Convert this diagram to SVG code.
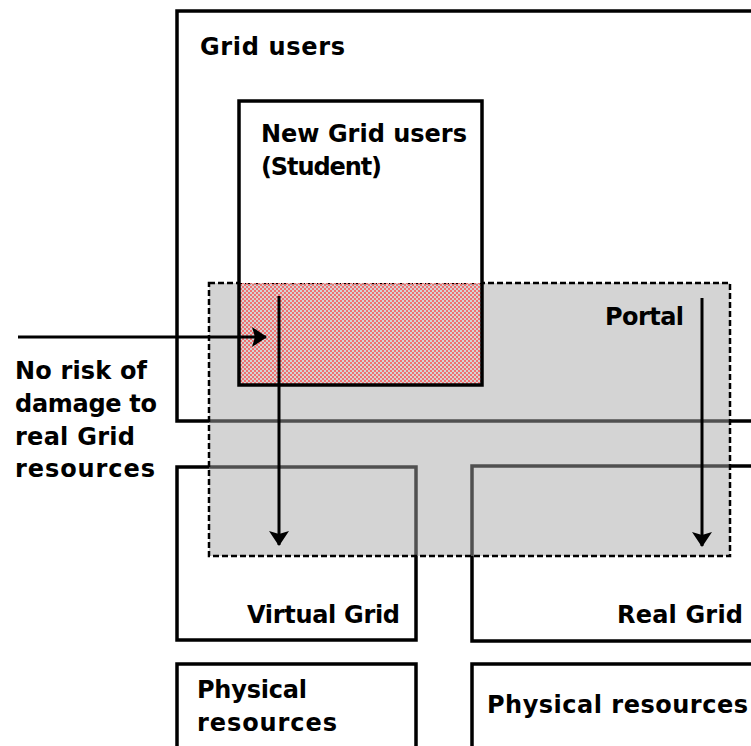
<svg xmlns="http://www.w3.org/2000/svg" width="751" height="746" viewBox="0 0 751 746">
<style>
  .box { fill: #ffffff; stroke: #000000; stroke-width: 3.5; }
  .under { fill: none; stroke: #505050; stroke-width: 3.5; }
  .lbl { font-family: "DejaVu Sans", Verdana, sans-serif; font-weight: bold; font-size: 24px; fill: #000000; }
  .end { text-anchor: end; }
  .conn { fill: none; stroke: #000000; stroke-width: 3; marker-end: url(#arrow); }
</style>
<defs>
  <marker id="arrow" viewBox="0 0 15 20" refX="14" refY="10" markerWidth="15" markerHeight="20" markerUnits="userSpaceOnUse" orient="auto">
    <path d="M0,0 L15,10 L0,20 L3,10 z" fill="#000000"/>
  </marker>
  <pattern id="checker" x="0" y="0" width="4" height="4" patternUnits="userSpaceOnUse">
    <rect x="0" y="0" width="2" height="2" fill="#f07070"/>
    <rect x="2" y="2" width="2" height="2" fill="#f07070"/>
  </pattern>
</defs>
<rect x="0" y="0" width="751" height="746" fill="#ffffff"/>

<g id="grid-users">
  <path class="box" d="M753,421 H177 V11 H753"/>
  <text class="lbl" x="200" y="55" textLength="145" lengthAdjust="spacing">Grid users</text>
</g>

<g id="virtual-grid">
  <rect class="box" x="177" y="467" width="239" height="173"/>
  <text class="lbl" x="247" y="623" textLength="153" lengthAdjust="spacing">Virtual Grid</text>
</g>

<g id="real-grid">
  <path class="box" d="M753,466 H472 V641 H753"/>
  <text class="lbl" x="617" y="623" textLength="126" lengthAdjust="spacing">Real Grid</text>
</g>

<g id="physical-virtual">
  <path class="box" d="M177,750 V664 H416 V750"/>
  <text class="lbl" x="197" y="698" textLength="110" lengthAdjust="spacing">Physical</text>
  <text class="lbl" x="197" y="731" textLength="140" lengthAdjust="spacing">resources</text>
</g>

<g id="physical-real">
  <path class="box" d="M472,750 V664 H753"/>
  <text class="lbl" x="487" y="713" textLength="261" lengthAdjust="spacing">Physical resources</text>
</g>

<g id="portal">
  <rect x="209" y="283" width="521" height="273" fill="#d4d4d4"/>
  <path class="under" d="M209,421 H730 M209,467 H416 V556 M730,466 H472 V556"/>
  <rect x="209" y="283" width="521" height="273" fill="none" stroke="#000000" stroke-width="2.5" stroke-dasharray="6,3"/>
  <text class="lbl" x="605" y="325" textLength="79" lengthAdjust="spacing">Portal</text>
</g>

<g id="new-grid-users">
  <rect x="239" y="101" width="243" height="182" fill="#ffffff"/>
  <rect x="239" y="283" width="243" height="102" fill="url(#checker)"/>
  <rect x="239" y="101" width="243" height="284" fill="none" stroke="#000000" stroke-width="3.5"/>
  <text class="lbl" x="261" y="142" textLength="206" lengthAdjust="spacing">New Grid users</text>
  <text class="lbl" x="261" y="175" textLength="121" lengthAdjust="spacing">(Student)</text>
</g>

<g id="note">
  <text class="lbl" x="15" y="379" textLength="132" lengthAdjust="spacing">No risk of</text>
  <text class="lbl" x="15" y="412" textLength="142" lengthAdjust="spacing">damage to</text>
  <text class="lbl" x="15" y="445" textLength="120" lengthAdjust="spacing">real Grid</text>
  <text class="lbl" x="15" y="477" textLength="140" lengthAdjust="spacing">resources</text>
</g>

<g id="connectors">
  <line class="conn" x1="18" y1="337" x2="266" y2="337"/>
  <line class="conn" x1="279" y1="296" x2="279" y2="545"/>
  <line class="conn" x1="702" y1="298" x2="702" y2="546"/>
</g>
</svg>
